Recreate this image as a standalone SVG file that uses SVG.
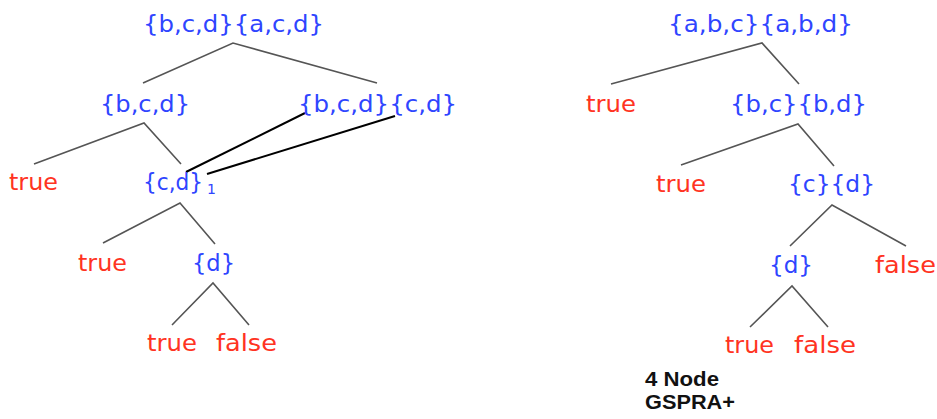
<svg xmlns="http://www.w3.org/2000/svg" width="937" height="419" viewBox="0 0 937 419">
<style>
.s{font-family:"DejaVu Sans",sans-serif;font-size:23px;fill:#2f45ff}
.v{font-family:"DejaVu Sans",sans-serif;font-size:23px;fill:#ff3322}
.e{stroke:#555;stroke-width:1.6;fill:none}
.k{stroke:#000;stroke-width:2;fill:none}
.b{font-family:"Liberation Sans",Arial,sans-serif;font-size:20px;font-weight:bold;fill:#111}
</style>
<rect width="937" height="419" fill="#fff"/>
<g id="connectors">
<polyline class="e" points="143,83 233,43 377,83"/>
<polyline class="e" points="34,164 144,123 181,164"/>
<line class="k" x1="305" y1="113" x2="186" y2="172"/>
<line class="k" x1="395" y1="116" x2="207" y2="174"/>
<polyline class="e" points="103,243 180,203 215,244"/>
<polyline class="e" points="172,325 213,283 249,325"/>
<polyline class="e" points="611,84 762,43 799,84"/>
<polyline class="e" points="681,165 798,124 834,166"/>
<polyline class="e" points="790,246 832,205 906,246"/>
<polyline class="e" points="750,327 792,286 828,327"/>
</g>
<g id="n-root-left"><text class="s" x="143" y="32" textLength="181" lengthAdjust="spacingAndGlyphs">{b,c,d}{a,c,d}</text></g>
<g id="n-bcd"><text class="s" x="100" y="112" textLength="90" lengthAdjust="spacingAndGlyphs">{b,c,d}</text></g>
<g id="n-bcd-cd"><text class="s" x="298" y="112" textLength="159" lengthAdjust="spacingAndGlyphs">{b,c,d}{c,d}</text></g>
<g id="n-true1"><text class="v" x="9" y="190" textLength="49" lengthAdjust="spacingAndGlyphs">true</text></g>
<g id="n-cd1"><text class="s" x="143" y="190"><tspan textLength="60" lengthAdjust="spacingAndGlyphs">{c,d}</tspan><tspan font-size="14" dx="4" dy="4">1</tspan></text></g>
<g id="n-true2"><text class="v" x="78" y="271" textLength="49" lengthAdjust="spacingAndGlyphs">true</text></g>
<g id="n-d-left"><text class="s" x="192" y="271" textLength="43" lengthAdjust="spacingAndGlyphs">{d}</text></g>
<g id="n-true3"><text class="v" x="147" y="351" textLength="50" lengthAdjust="spacingAndGlyphs">true</text></g>
<g id="n-false1"><text class="v" x="216" y="351" textLength="61" lengthAdjust="spacingAndGlyphs">false</text></g>
<g id="n-root-right"><text class="s" x="668" y="32" textLength="185" lengthAdjust="spacingAndGlyphs">{a,b,c}{a,b,d}</text></g>
<g id="n-true4"><text class="v" x="586" y="112" textLength="50" lengthAdjust="spacingAndGlyphs">true</text></g>
<g id="n-bc-bd"><text class="s" x="730" y="112" textLength="137" lengthAdjust="spacingAndGlyphs">{b,c}{b,d}</text></g>
<g id="n-true5"><text class="v" x="656" y="192" textLength="50" lengthAdjust="spacingAndGlyphs">true</text></g>
<g id="n-c-d"><text class="s" x="788" y="192" textLength="87" lengthAdjust="spacingAndGlyphs">{c}{d}</text></g>
<g id="n-d-right"><text class="s" x="769" y="273" textLength="44" lengthAdjust="spacingAndGlyphs">{d}</text></g>
<g id="n-false2"><text class="v" x="875" y="273" textLength="61" lengthAdjust="spacingAndGlyphs">false</text></g>
<g id="n-true6"><text class="v" x="725" y="353" textLength="49" lengthAdjust="spacingAndGlyphs">true</text></g>
<g id="n-false3"><text class="v" x="794" y="353" textLength="62" lengthAdjust="spacingAndGlyphs">false</text></g>
<g id="caption">
<text class="b" x="645" y="386" textLength="74" lengthAdjust="spacingAndGlyphs">4 Node</text>
<text class="b" x="645" y="409" textLength="90" lengthAdjust="spacingAndGlyphs">GSPRA+</text>
</g>
</svg>
